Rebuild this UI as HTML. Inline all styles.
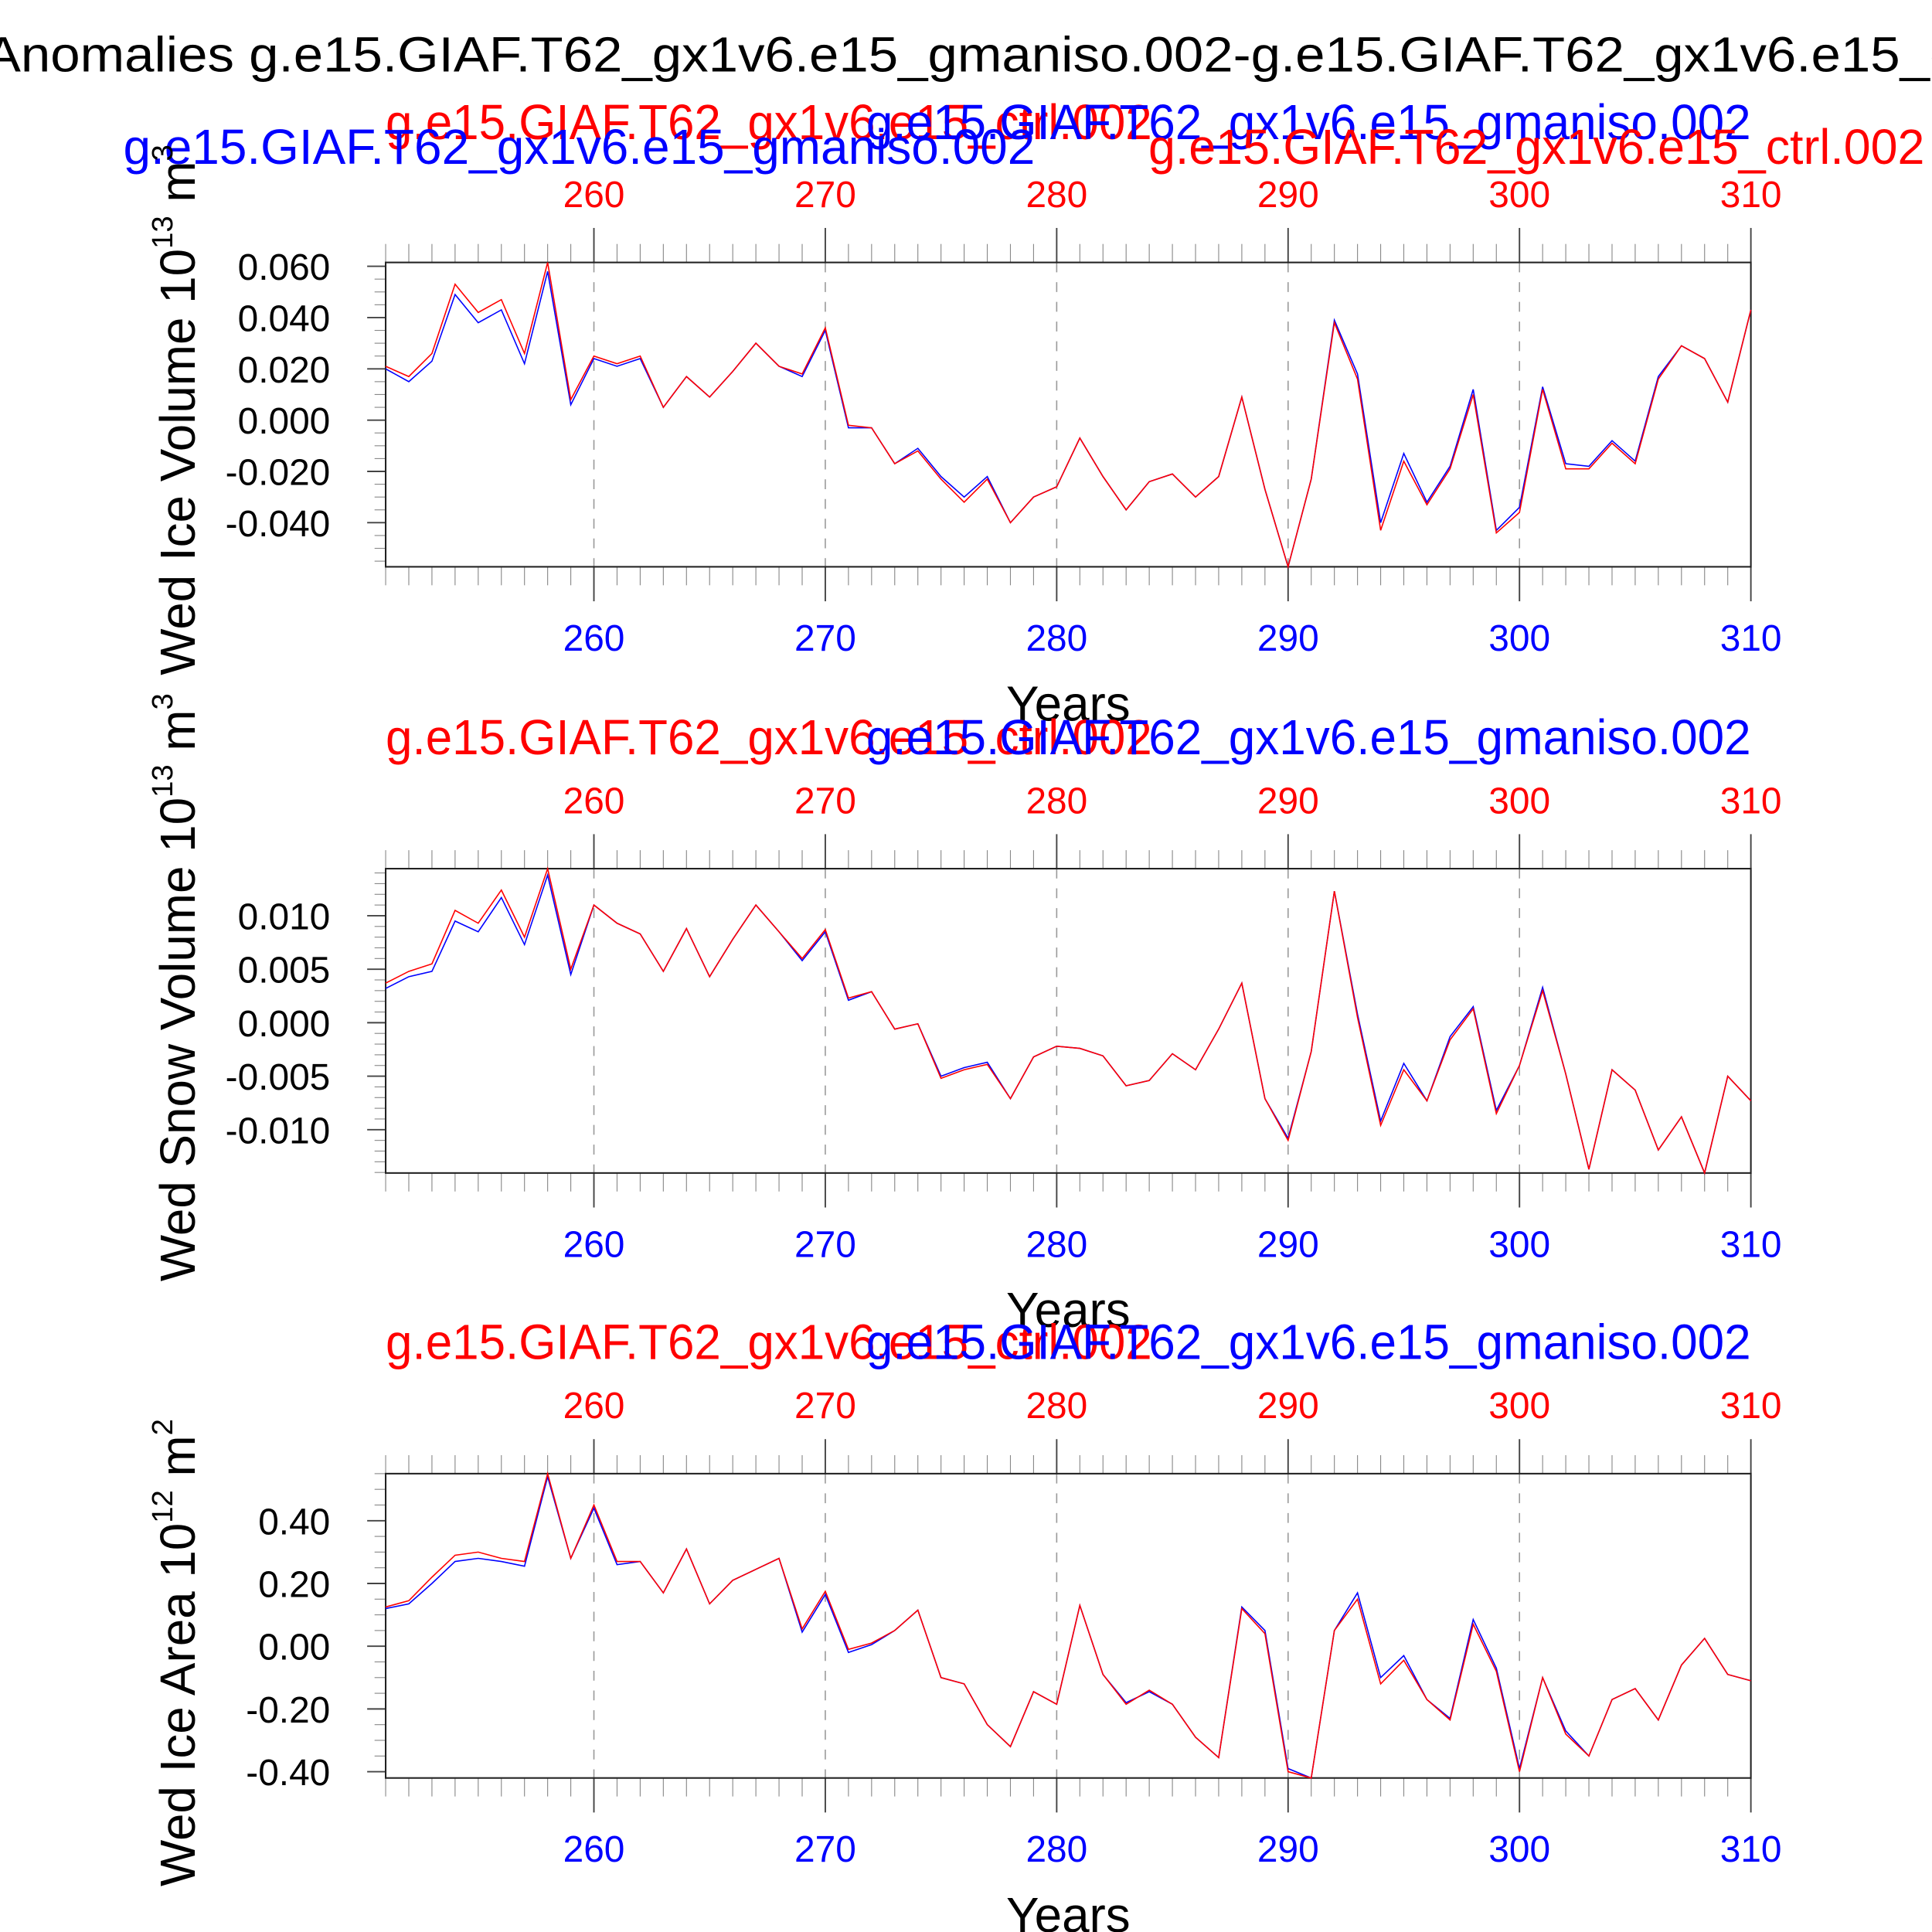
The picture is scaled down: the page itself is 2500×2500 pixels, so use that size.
<!DOCTYPE html>
<html><head><meta charset="utf-8"><style>
html,body{margin:0;padding:0;background:#fff;}
svg{display:block;font-family:"Liberation Sans",sans-serif;}
</style></head><body>
<svg id="chart" width="2500" height="2500" viewBox="0 0 1568 1568" xmlns="http://www.w3.org/2000/svg">
<text x="-12" y="58" font-size="40" fill="#000" textLength="1720" lengthAdjust="spacingAndGlyphs">Anomalies g.e15.GIAF.T62_gx1v6.e15_gmaniso.002-g.e15.GIAF.T62_gx1v6.e15_ctrl.002</text>
</svg>
<script>
const years = [];
for (let y = 251; y <= 310; y++) years.push(y);
const xTicks = [260, 270, 280, 290, 300, 310];

const volCtrl = [0.021,0.017,0.026,0.053,0.042,0.047,0.026,0.0615,0.008,0.025,0.022,0.025,0.005,0.017,0.009,0.019,0.030,0.021,0.018,0.036,-0.002,-0.003,-0.017,-0.012,-0.023,-0.032,-0.023,-0.040,-0.030,-0.026,-0.007,-0.022,-0.035,-0.024,-0.021,-0.030,-0.022,0.009,-0.027,-0.0572,-0.023,0.038,0.016,-0.043,-0.016,-0.033,-0.019,0.010,-0.044,-0.036,0.012,-0.019,-0.019,-0.009,-0.017,0.016,0.029,0.024,0.007,0.043];
const volAniso = [0.020,0.015,0.023,0.049,0.038,0.043,0.022,0.058,0.006,0.024,0.021,0.024,0.005,0.017,0.009,0.019,0.030,0.021,0.017,0.035,-0.003,-0.003,-0.017,-0.011,-0.022,-0.030,-0.022,-0.040,-0.030,-0.026,-0.007,-0.022,-0.035,-0.024,-0.021,-0.030,-0.022,0.009,-0.027,-0.0572,-0.023,0.039,0.018,-0.040,-0.013,-0.032,-0.018,0.012,-0.043,-0.034,0.013,-0.017,-0.018,-0.008,-0.016,0.017,0.029,0.024,0.007,0.043];
const volTicks = ["0.060","0.040","0.020","0.000","-0.020","-0.040"];

const snowCtrl = [0.0037,0.0048,0.0055,0.0105,0.0093,0.0124,0.0080,0.0144,0.0050,0.0110,0.0093,0.0083,0.0048,0.0088,0.0043,0.0078,0.0110,0.0085,0.0060,0.0087,0.0023,0.0029,-0.0006,-0.0001,-0.0052,-0.0044,-0.0039,-0.0071,-0.0032,-0.0022,-0.0024,-0.0031,-0.0059,-0.0054,-0.0029,-0.0044,-0.0006,0.0037,-0.0071,-0.0110,-0.0027,0.0123,0.0005,-0.0096,-0.0044,-0.0073,-0.0016,0.0013,-0.0085,-0.0040,0.0030,-0.0048,-0.0137,-0.0044,-0.0063,-0.0119,-0.0088,-0.01405,-0.0050,-0.0073];
const snowAniso = [0.0032,0.0043,0.0048,0.0095,0.0085,0.0117,0.0073,0.0138,0.0045,0.0110,0.0093,0.0083,0.0048,0.0088,0.0043,0.0078,0.0110,0.0085,0.0058,0.0085,0.0021,0.0029,-0.0006,-0.0001,-0.0050,-0.0042,-0.0037,-0.0071,-0.0032,-0.0022,-0.0024,-0.0031,-0.0059,-0.0054,-0.0029,-0.0044,-0.0006,0.0037,-0.0071,-0.0108,-0.0027,0.0123,0.0008,-0.0092,-0.0038,-0.0073,-0.0013,0.0015,-0.0082,-0.0040,0.0033,-0.0048,-0.0137,-0.0044,-0.0063,-0.0119,-0.0088,-0.01405,-0.0050,-0.0073];
const snowTicks = ["0.010","0.005","0.000","-0.005","-0.010"];

const areaCtrl = [0.125,0.145,0.22,0.29,0.30,0.28,0.27,0.55,0.28,0.45,0.27,0.27,0.17,0.31,0.135,0.21,0.245,0.28,0.055,0.175,-0.01,0.01,0.05,0.115,-0.10,-0.12,-0.25,-0.32,-0.145,-0.185,0.13,-0.09,-0.185,-0.14,-0.185,-0.29,-0.355,0.12,0.04,-0.40,-0.42,0.05,0.15,-0.12,-0.045,-0.17,-0.235,0.07,-0.08,-0.40,-0.10,-0.28,-0.35,-0.17,-0.135,-0.235,-0.06,0.025,-0.09,-0.11];
const areaAniso = [0.12,0.135,0.20,0.27,0.28,0.27,0.255,0.54,0.28,0.44,0.26,0.27,0.17,0.31,0.135,0.21,0.245,0.28,0.045,0.165,-0.02,0.005,0.05,0.115,-0.10,-0.12,-0.25,-0.32,-0.145,-0.185,0.13,-0.09,-0.18,-0.145,-0.185,-0.29,-0.355,0.125,0.05,-0.39,-0.42,0.05,0.17,-0.10,-0.03,-0.17,-0.23,0.085,-0.07,-0.39,-0.10,-0.27,-0.35,-0.17,-0.135,-0.235,-0.06,0.025,-0.09,-0.11];
const areaTicks = ["0.40","0.20","0.00","-0.20","-0.40"];

const svg = document.getElementById('chart');
const NS = 'http://www.w3.org/2000/svg';
function mk(tag, attrs, parent) {
  const e = document.createElementNS(NS, tag);
  for (const k in attrs) e.setAttribute(k, attrs[k]);
  (parent || svg).appendChild(e);
  return e;
}
const X0 = 313, X1 = 1421, H = 247;
const CTRL = 'g.e15.GIAF.T62_gx1v6.e15_ctrl.002', ANISO = 'g.e15.GIAF.T62_gx1v6.e15_gmaniso.002';

function panel(name, top, ctrl, aniso, ticks, ymin, ymax, minorStep, ylabel, sup, unit, extraRow) {
  const g = mk('g', {});
  
  
  const xs = v => X0 + (v - 251) / (310 - 251) * (X1 - X0);
  const ys = v => top + (ymax - v) / (ymax - ymin) * H;
  const bot = top + H;
  const sy = extraRow ? top - 100 : top - 93;
  let t = mk('text', {x: X0, y: sy, 'font-size': 40, fill: '#f00', textLength: 622, lengthAdjust: 'spacingAndGlyphs'}, g); t.textContent = CTRL;
   
  t = mk('text', {x: 703, y: sy, 'font-size': 40, fill: '#00f', textLength: 718, lengthAdjust: 'spacingAndGlyphs'}, g); t.textContent = ANISO;
   
  if (extraRow) {
    t = mk('text', {x: 100, y: top - 80, 'font-size': 40, fill: '#00f', textLength: 740, lengthAdjust: 'spacingAndGlyphs'}, g); t.textContent = ANISO;
     
    t = mk('text', {x: 932, y: top - 80, 'font-size': 40, fill: '#f00', textLength: 630, lengthAdjust: 'spacingAndGlyphs'}, g); t.textContent = CTRL;
     
  }
  xTicks.forEach(v => {
    if (v === 310) return;
    const l = mk('line', {x1: xs(v), x2: xs(v), y1: top, y2: bot, stroke: '#999', 'stroke-width': 1, 'stroke-dasharray': '8,8'}, g);
     
  });
  years.forEach(v => {
    const major = xTicks.includes(v);
    const len = major ? 28 : 15;
    const col = major ? '#444' : '#888';
    mk('line', {x1: xs(v), x2: xs(v), y1: top, y2: top - len, stroke: col, 'stroke-width': major ? 1.2 : 0.7}, g);
    mk('line', {x1: xs(v), x2: xs(v), y1: bot, y2: bot + len, stroke: col, 'stroke-width': major ? 1.2 : 0.7}, g);
  });
  xTicks.forEach(v => {
    let a = mk('text', {x: xs(v), y: top - 45, 'font-size': 30, fill: '#f00', 'text-anchor': 'middle'}, g); a.textContent = v;
     
    a = mk('text', {x: xs(v), y: bot + 68, 'font-size': 30, fill: '#00f', 'text-anchor': 'middle'}, g); a.textContent = v;
     
  });
  const start = Math.ceil(ymin / minorStep), end = Math.floor(ymax / minorStep);
  for (let i = start; i <= end; i++) {
    const v = i * minorStep;
    mk('line', {x1: X0, x2: X0 - 9, y1: ys(v), y2: ys(v), stroke: '#888', 'stroke-width': 0.7}, g);
  }
  ticks.forEach(s => {
    const v = parseFloat(s);
    mk('line', {x1: X0, x2: X0 - 15, y1: ys(v), y2: ys(v), stroke: '#444', 'stroke-width': 1.2}, g);
    const a = mk('text', {x: 268, y: ys(v) + 11, 'font-size': 30, fill: '#000', 'text-anchor': 'end'}, g); a.textContent = s;
     
  });
  const r = mk('rect', {x: X0, y: top, width: X1 - X0, height: H, fill: 'none', stroke: '#222', 'stroke-width': 1.3}, g);
   
  [[aniso, '#00f', 'aniso-line'], [ctrl, '#f00', 'ctrl-line']].forEach(([arr, c, nm]) => {
    const p = mk('polyline', {points: arr.map((v, i) => xs(years[i]) + ',' + ys(v)).join(' '), fill: 'none', stroke: c, 'stroke-width': 1}, g);
     
  });
  t = mk('text', {x: 867, y: bot + 125, 'font-size': 40, fill: '#000', 'text-anchor': 'middle'}, g); t.textContent = 'Years';
   
  t = mk('text', {transform: 'translate(158,' + (top + 335) + ') rotate(-90)', 'font-size': 40, fill: '#000'}, g);
   
  const s1 = mk('tspan', {}, t); s1.textContent = ylabel + ' 10';
  const s2 = mk('tspan', {dy: -18, 'font-size': 24}, t); s2.textContent = sup;
  const s3 = mk('tspan', {dy: 18}, t); s3.textContent = ' m';
  const s4 = mk('tspan', {dy: -18, 'font-size': 24}, t); s4.textContent = unit;
}
panel('ice-volume', 213, volCtrl, volAniso, volTicks, -0.0572, 0.0615, 0.005, 'Wed Ice Volume', '13', '3', true);
panel('snow-volume', 705, snowCtrl, snowAniso, snowTicks, -0.01405, 0.0144, 0.001, 'Wed Snow Volume', '13', '3', false);
panel('ice-area', 1196, areaCtrl, areaAniso, areaTicks, -0.42, 0.55, 0.05, 'Wed Ice Area', '12', '2', false);
</script>
</body></html>
